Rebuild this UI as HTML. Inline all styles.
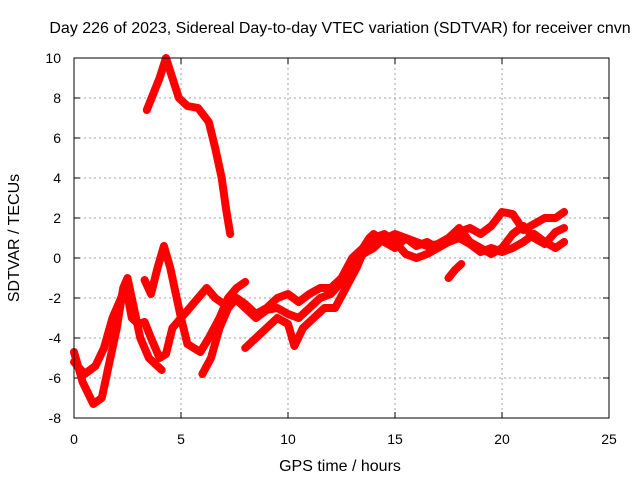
<!DOCTYPE html>
<html><head><meta charset="utf-8"><style>
body{margin:0;background:#fff}
svg{display:block;font-family:"Liberation Sans",sans-serif}
</style></head><body>
<svg id="chart" width="640" height="480">
<text x="340" y="33" text-anchor="middle" font-size="16">Day 226 of 2023, Sidereal Day-to-day VTEC variation (SDTVAR) for receiver cnvn</text>
<text x="340" y="471" text-anchor="middle" font-size="16">GPS time / hours</text>
<text transform="translate(19,238) rotate(-90)" text-anchor="middle" font-size="16">SDTVAR / TECUs</text>
<g id="grid"></g><g id="ticks"></g><g id="series"></g>
<rect x="74" y="58" width="535" height="360" fill="none" stroke="#000" stroke-width="1"/>
</svg>
<script>
const xTicks=[0,5,10,15,20,25];
const yTicks=[-8,-6,-4,-2,0,2,4,6,8,10];
const sA_x=[3.4,3.7,4.0,4.3,4.6,4.9,5.3,5.8,6.3,6.6,6.9,7.1,7.3];
const sA_y=[7.4,8.2,9,10,9,8,7.6,7.5,6.8,5.5,4,2.5,1.2];
const sB_x=[0,0.4,0.9,1.3,1.6,2.0,2.3,2.5,2.8,3.1,3.5,3.8,4.1];
const sB_y=[-4.7,-6.2,-7.3,-7,-5.5,-3.5,-1.5,-1,-2.5,-4,-5,-5.3,-5.6];
const sC_x=[0,0.5,1.0,1.4,1.8,2.2,2.4,2.7,3.0,3.3,3.6,4.0,4.3,4.6,5.0,5.4,5.8,6.2,6.6,7.0];
const sC_y=[-5.2,-5.8,-5.4,-4.5,-3,-2,-1.3,-3,-3.3,-3.2,-4,-5,-4.8,-3.5,-3,-2.5,-2,-1.5,-2,-2.3];
const sD_x=[3.3,3.6,3.9,4.2,4.5,4.8,5.0,5.3,5.6,5.9,6.3,6.8,7.2,7.6,8.0];
const sD_y=[-1.1,-1.8,-0.5,0.6,-0.5,-2,-3,-4.3,-4.5,-4.7,-4,-3,-2,-1.5,-1.2];
const sE_x=[6.0,6.4,6.8,7.2,7.6,8.0,8.5,9,9.5,10,10.5,11,11.5,12,12.5,13,13.5,13.8,14,14.5,15,15.5,16,16.5,17];
const sE_y=[-5.8,-5,-3.5,-2.5,-2,-2.3,-2.8,-2.5,-2,-1.8,-2.2,-1.8,-1.5,-1.5,-1,0,0.5,1,1.2,0.8,0.5,1,0.6,0.8,0.5];
const sF_x=[8,8.5,9,9.5,10,10.3,10.7,11.2,11.7,12.2,12.7,13.2,13.6,14,14.5,15,15.5,16,16.5,17,17.5,18,18.5,19,19.5,20,20.5,21,21.5,22,22.5,22.9];
const sF_y=[-4.5,-4,-3.5,-3,-3.3,-4.4,-3.5,-3,-2.5,-2.5,-1.5,-0.5,0.5,1,1.2,0.8,0.2,0,0.2,0.5,0.8,1,0.7,0.3,0.5,0.3,0.5,0.8,1.2,0.8,0.5,0.8];
const sG_x=[7.5,8,8.5,9,9.5,10,10.5,11,11.5,12,12.5,13,13.5,14,14.4,15,15.5,16,16.5,17,17.5,18,18.5,19,19.5,20,20.5,21,21.5,22,22.5,22.9];
const sG_y=[-2,-2.5,-3,-2.6,-2.5,-2.8,-3,-2.5,-2,-1.8,-1.2,-0.3,0.2,0.5,0.9,1.2,1,0.8,0.6,0.7,1,1.3,1.5,1.2,1.6,2.3,2.2,1.4,1.7,2,2,2.3];
const sH_x=[17.5,18,18.5,19,19.5,20,20.5,21,21.5,22,22.5,22.9];
const sH_y=[1,1.5,0.8,0.5,0.2,0.5,1.2,1.6,1,0.7,1.3,1.5];
const sI_x=[17.5,17.8,18.1];
const sI_y=[-1,-0.6,-0.3];
const seriesX=[sA_x,sB_x,sC_x,sD_x,sE_x,sF_x,sG_x,sH_x,sI_x];
const seriesY=[sA_y,sB_y,sC_y,sD_y,sE_y,sF_y,sG_y,sH_y,sI_y];

const X0=74,X1=609,Y0=418,Y1=58,xmin=0,xmax=25,ymin=-8,ymax=10;
const px=v=>X0+(v-xmin)/(xmax-xmin)*(X1-X0);
const py=v=>Y0-(v-ymin)/(ymax-ymin)*(Y0-Y1);
const NS="http://www.w3.org/2000/svg";
function mk(t,a,p){const e=document.createElementNS(NS,t);for(const k in a)e.setAttribute(k,a[k]);p.appendChild(e);return e;}
const grid=document.getElementById('grid'),ticks=document.getElementById('ticks'),ser=document.getElementById('series');
xTicks.forEach(t=>{
  const x=px(t);
  if(t>xmin&&t<xmax){const g=mk('line',{x1:x,x2:x,y1:Y1,y2:Y0,stroke:'#a0a0a0','stroke-dasharray':'2,3'},grid);
  
  }
  mk('line',{x1:x,x2:x,y1:Y0,y2:Y0-6,stroke:'#000'},ticks);
  mk('line',{x1:x,x2:x,y1:Y1,y2:Y1+6,stroke:'#000'},ticks);
  const l=mk('text',{x:x,y:Y0+26,'text-anchor':'middle','font-size':14},ticks);l.textContent=t;
  
  
});
yTicks.forEach(t=>{
  const y=py(t);
  if(t>ymin&&t<ymax){const g=mk('line',{x1:X0,x2:X1,y1:y,y2:y,stroke:'#a0a0a0','stroke-dasharray':'2,3'},grid);
  
  }
  mk('line',{x1:X0,x2:X0+6,y1:y,y2:y,stroke:'#000'},ticks);
  mk('line',{x1:X1,x2:X1-6,y1:y,y2:y,stroke:'#000'},ticks);
  const l=mk('text',{x:X0-13,y:y+5,'text-anchor':'end','font-size':14},ticks);l.textContent=t;
  
  
});
seriesX.forEach((xs,i)=>{
  const ys=seriesY[i];
  const pts=xs.map((x,j)=>px(x).toFixed(1)+','+py(ys[j]).toFixed(1)).join(' ');
  const p=mk('polyline',{points:pts,fill:'none',stroke:'#ff0000','stroke-width':8,'stroke-linejoin':'round','stroke-linecap':'round'},ser);
  
  
});
</script>
</body></html>
